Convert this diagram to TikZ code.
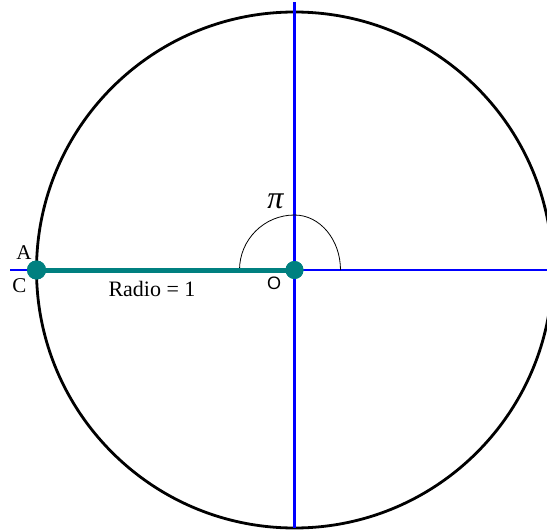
\documentclass[tikz,border=0pt]{standalone}
\usepackage{fontspec}
\setmainfont{Liberation Serif}
\newfontfamily\sansf{Liberation Sans}
\definecolor{dotteal}{RGB}{0,128,128}
\definecolor{axisblue}{RGB}{0,0,255}
\begin{document}
\begin{tikzpicture}[x=1pt,y=-1pt,
  dotnode/.style={circle,fill=dotteal,inner sep=0pt,minimum size=19pt},
  axisline/.style={draw=axisblue,line width=2.1pt},
  radiusline/.style={draw=dotteal,line width=5pt},
  lbl/.style={inner sep=0pt,font=\fontsize{21}{23}\selectfont}]
\useasboundingbox (0,0) rectangle (547,530);
\fill[white] (0,0) rectangle (547,530);
% circle
\coordinate (O) at (294.5,270);
\draw[line width=2.8pt] (O) circle[radius=258pt];
% axes ends
\coordinate (axL) at (10,270);
\coordinate (axR) at (547,270);
\coordinate (axT) at (294.5,2);
\coordinate (axB) at (294.5,528);
\draw[axisline] (axL) -- (axR);
\draw[axisline] (axT) -- (axB);
% angle arc
\coordinate (arcL) at (239.5,270);
\draw[line width=0.8pt] (arcL) arc[start angle=180,end angle=90,x radius=55pt,y radius=55pt]
  arc[start angle=90,end angle=0,x radius=46pt,y radius=55pt];
% radius and dots
\node[dotnode] (A) at (36.5,270) {};
\node[dotnode,minimum size=18pt] (Od) at (O) {};
\draw[radiusline] (A.center) -- (Od.center);
\node[dotnode] at (A) {};
\node[dotnode,minimum size=18pt] at (O) {};
% labels
\node[lbl] (la) at (24,253) {A};
\node[lbl] (lc) at (19.5,286) {C};
\node[lbl,font=\fontsize{22}{24}\selectfont] (lr) at (152,288.5) {Radio = 1};
\node[lbl,font=\sansf\fontsize{18}{20}\selectfont] (lo) at (274,283.5) {O};
\node[lbl,font=\itshape\fontsize{32}{34}\selectfont] (lpi) at (275.5,201) {π};
\end{tikzpicture}
\end{document}
